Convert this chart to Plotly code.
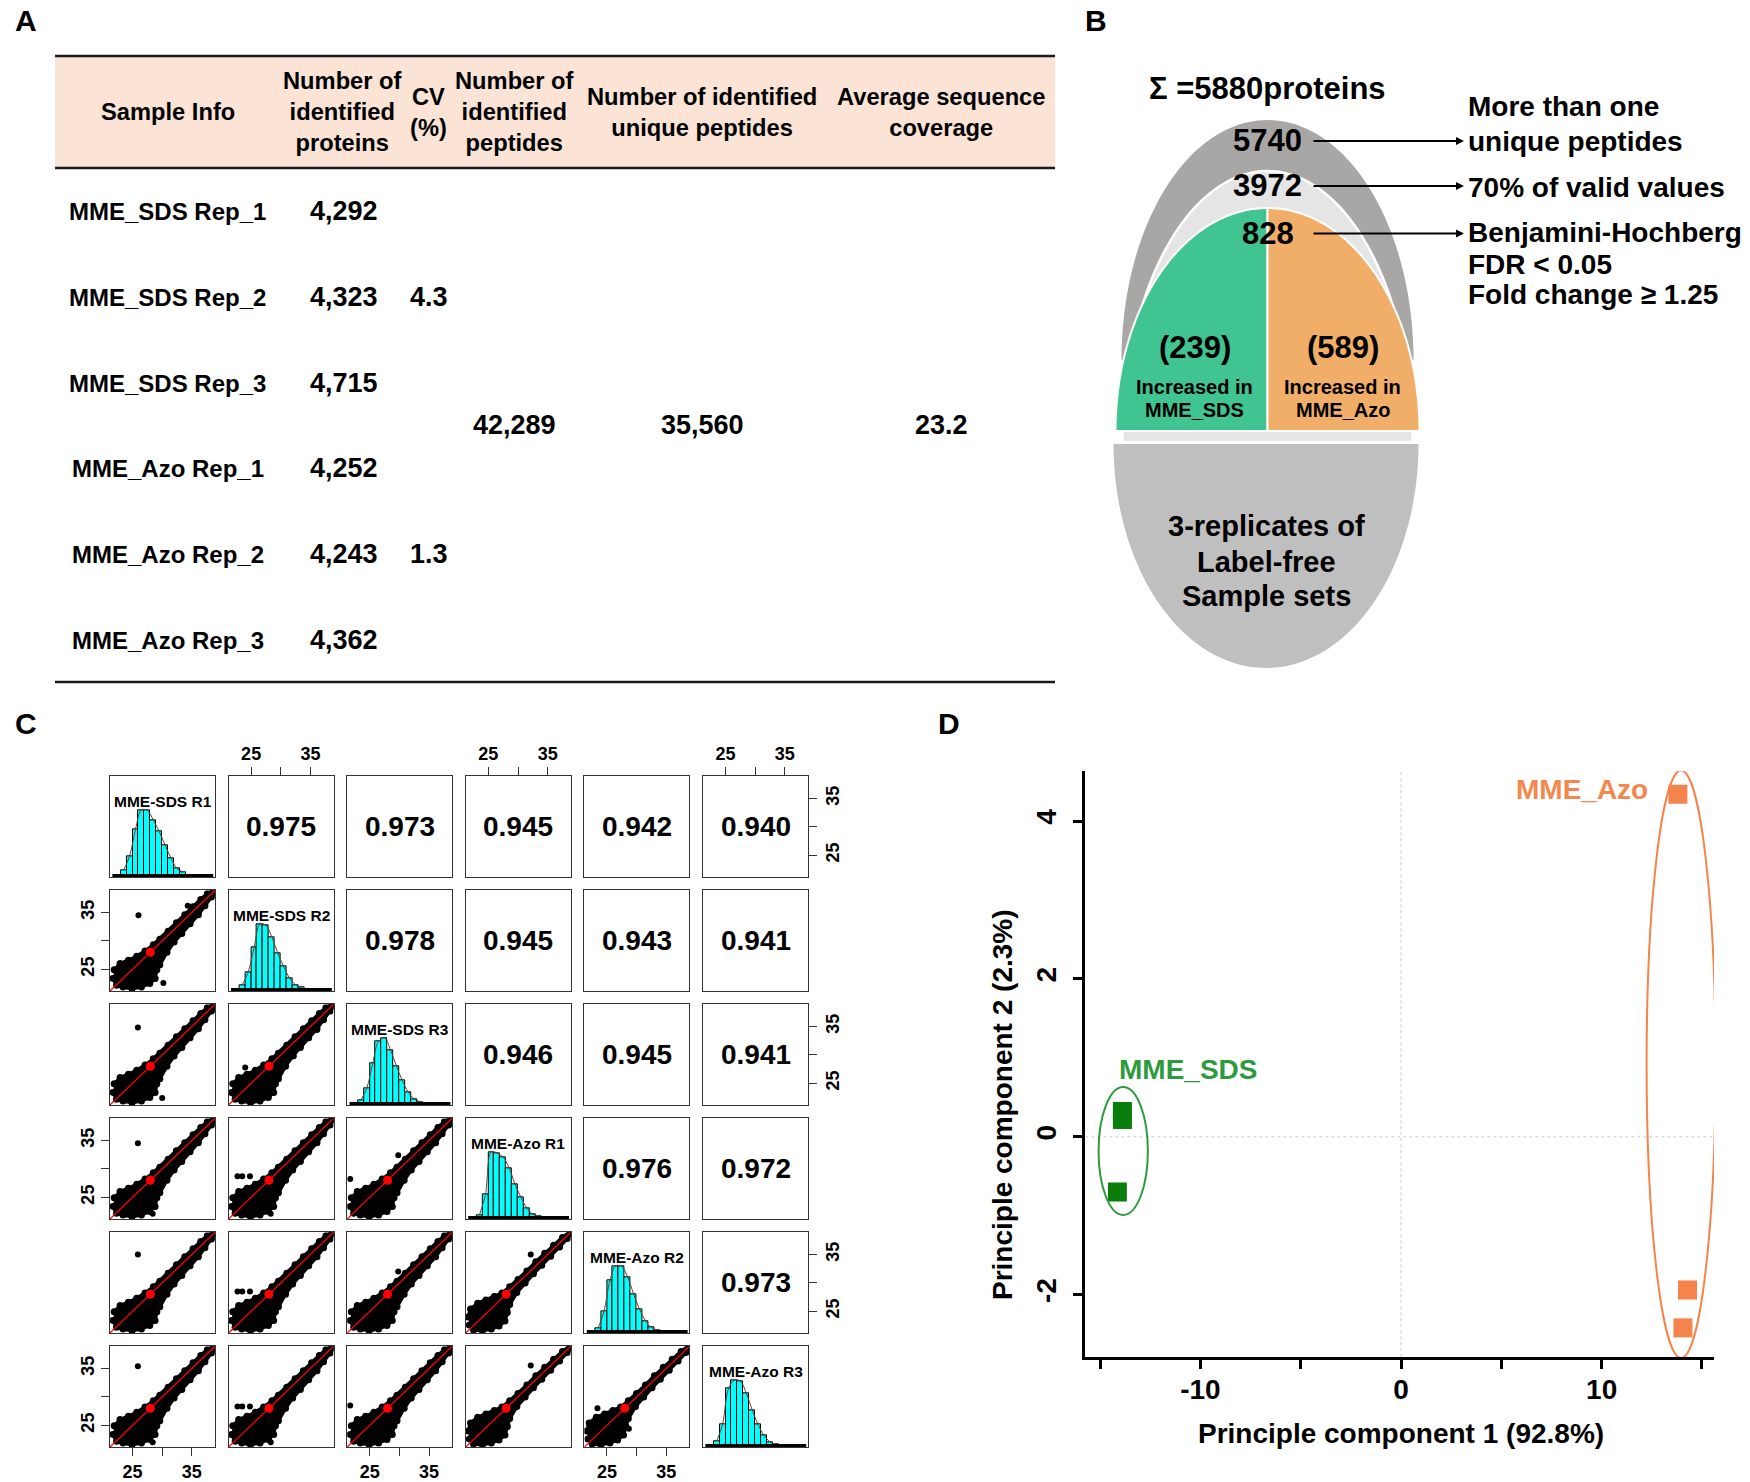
import math
import plotly.graph_objects as go

W, H = 1750, 1482
FONT = "Liberation Sans"


def fx(x):
    return x / W


def fy(y):
    return 1 - y / H


# ======================= DATA =======================
# ---- Panel A (table) ----
header_labels = ["Sample Info", "Number of<br>identified<br>proteins", "CV<br>(%)",
                 "Number of<br>identified<br>peptides", "Number of identified<br>unique peptides",
                 "Average sequence<br>coverage"]
sample_info = ["MME_SDS Rep_1", "MME_SDS Rep_2", "MME_SDS Rep_3",
               "MME_Azo Rep_1", "MME_Azo Rep_2", "MME_Azo Rep_3"]
identified_proteins = [4292, 4323, 4715, 4252, 4243, 4362]
cv_percent = [4.3, 1.3]              # MME_SDS group, MME_Azo group
identified_peptides = 42289
unique_peptides = 35560
avg_sequence_coverage = 23.2

# ---- Panel B (filtering funnel) ----
total_proteins = 5880
filter_counts = [5740, 3972, 828]
filter_text_lines = [["More than one", "unique peptides"], ["70% of valid values"],
                     ["Benjamini-Hochberg", "FDR < 0.05", "Fold change \u2265 1.25"]]
increased_counts = [239, 589]
increased_groups = ["MME_SDS", "MME_Azo"]
sample_set_text = ["3-replicates of", "Label-free", "Sample sets"]

# ---- Panel C (scatter matrix) ----
replicates = ["MME-SDS R1", "MME-SDS R2", "MME-SDS R3", "MME-Azo R1", "MME-Azo R2", "MME-Azo R3"]
corr_rows = [[0.975, 0.973, 0.945, 0.942, 0.940],
             [0.978, 0.945, 0.943, 0.941],
             [0.946, 0.945, 0.941],
             [0.976, 0.972],
             [0.973]]
axis_tick_values = [25, 30, 35]
axis_tick_labels = ["25", "", "35"]
hist_bin_left = [23, 24, 25, 26, 27, 28, 29, 30, 31, 32, 33]
hist_sds_r1 = [100, 310, 710, 1000, 990, 850, 675, 475, 275, 125, 75]
hist_sds_r2 = [90, 280, 650, 1000, 975, 800, 560, 360, 190, 90, 50]
hist_sds_r3 = [70, 250, 620, 950, 1000, 820, 580, 360, 190, 90, 45]
hist_azo_r1 = [60, 360, 1000, 980, 920, 760, 520, 320, 160, 70, 35]
hist_azo_r2 = [70, 320, 780, 1000, 990, 830, 580, 350, 180, 80, 40]
hist_azo_r3 = [80, 340, 870, 1000, 980, 800, 550, 330, 170, 75, 35]
rug_extent = [21.6, 38.6]
# dense point cloud outlines (log2 intensity)
cloud_wide_x = [21.7, 22.3, 23.4, 24.9, 26.5, 27.9, 28.8, 29.1, 29.6, 30.8, 32.0, 33.3, 34.7, 36.1,
                37.2, 38.3, 38.9, 38.6, 37.6, 36.5, 35.2, 33.8, 32.4, 31.0, 29.6, 28.5, 27.1, 25.7,
                24.3, 22.9, 21.9]
cloud_wide_y = [23.4, 22.2, 21.9, 21.6, 21.9, 22.5, 23.4, 24.9, 25.8, 28.0, 29.8, 31.3, 33.0, 34.6,
                36.2, 37.7, 38.6, 38.9, 38.3, 37.3, 36.0, 34.6, 33.2, 31.7, 30.3, 29.3, 28.2, 27.3,
                26.6, 26.0, 24.9]
cloud_tight_x = [21.8, 22.5, 24.0, 25.5, 26.8, 27.8, 28.2, 28.6, 29.8, 31.2, 32.6, 34.0, 35.5, 37.0,
                 38.3, 38.9, 38.7, 37.5, 36.0, 34.5, 33.0, 31.5, 30.0, 28.6, 27.3, 26.0, 24.6, 23.2,
                 22.0, 21.6]
cloud_tight_y = [22.6, 21.7, 21.6, 21.9, 22.4, 23.3, 24.8, 26.2, 28.3, 30.0, 31.6, 33.1, 34.7, 36.3,
                 37.8, 38.6, 38.9, 38.0, 36.6, 35.2, 33.7, 32.1, 30.6, 29.3, 28.2, 27.6, 27.0, 26.4,
                 25.4, 24.0]
outlier_row = [1, 1, 1, 2, 2, 2, 2, 2, 3, 3, 3, 3, 3, 3, 3, 3, 4, 4, 4, 4, 4, 4, 5, 5, 5, 5, 5, 5, 5, 5, 5, 5]
outlier_col = [0, 0, 0, 0, 0, 1, 1, 1, 0, 0, 1, 1, 1, 1, 2, 2, 0, 1, 1, 1, 2, 3, 0, 0, 1, 1, 1, 1, 2, 3, 4, 4]
outlier_x = [26.0, 34.3, 30.2, 25.9, 30.0, 32.2, 36.1, 24.0, 25.9, 28.4, 22.7, 23.5, 24.8, 28.3, 29.8, 21.7,
             25.9, 22.7, 23.5, 24.8, 29.8, 32.15, 25.9, 28.4, 22.7, 23.5, 24.8, 28.3, 21.7, 32.15, 28.7, 23.4]
outlier_y = [34.5, 36.2, 22.6, 34.8, 22.4, 29.8, 34.4, 27.8, 34.5, 22.1, 28.7, 28.7, 28.7, 22.1, 32.4, 28.2,
             35.0, 28.5, 28.5, 28.5, 32.0, 35.0, 35.4, 22.0, 28.3, 28.3, 28.3, 22.0, 28.5, 35.5, 24.4, 28.0]
mean_intensity = 28.0

# ---- Panel D (PCA) ----
pc1_sds = [-13.89, -13.89, -14.14]
pc2_sds = [0.32, 0.22, -0.70]
pc1_azo = [13.80, 14.28, 14.05]
pc2_azo = [4.34, -1.94, -2.42]
ellipse_sds = [-13.85, -0.18, 1.23, 0.81]   # centre x, centre y, radius x, radius y
ellipse_azo = [13.96, 0.92, 1.72, 3.72]
pc_titles = ["Principle component 1 (92.8%)", "Principle component 2 (2.3%)"]
pc1_ticks = [-15, -10, -5, 0, 5, 10, 15]
pc1_tick_text = ["", "-10", "", "0", "", "10", ""]
pc2_ticks = [-2, 0, 2, 4]
pc2_tick_text = ["-2", "0", "2", "4"]

# ======================= FIGURE =======================
fig = go.Figure()
shapes = []
ann = []


def text(x, y, t, size, color="black", bold=True, xanchor="center", yanchor="middle", angle=0):
    ann.append(dict(x=fx(x), y=fy(y), xref="paper", yref="paper", text=("<b>%s</b>" % t) if bold else t,
                    showarrow=False, xanchor=xanchor, yanchor=yanchor, textangle=angle,
                    font=dict(family=FONT, size=size, color=color)))


# panel letters
for lab, (lx, ly) in zip("ABCD", [(26, 20), (1096, 20), (26, 724), (949, 723)]):
    text(lx, ly, lab, 30)

# ---------------- Panel A ----------------
shapes.append(dict(type="rect", xref="paper", yref="paper", x0=fx(55), x1=fx(1055), y0=fy(168), y1=fy(56),
                   fillcolor="#FBE4D5", line=dict(width=0), layer="below"))
for ly in [56, 168, 682]:
    shapes.append(dict(type="line", xref="paper", yref="paper", x0=fx(55), x1=fx(1055), y0=fy(ly), y1=fy(ly),
                       line=dict(color="#1a1a1a", width=2.5)))
col_x = [167.5, 342.5, 428.5, 514.5, 702, 941]
for cx, hl in zip(col_x, header_labels):
    text(cx, 112, hl, 23.7)
row_y = [211, 297, 383, 468, 554, 640]
for ry, s, p in zip(row_y, sample_info, identified_proteins):
    text(167.5, ry, s, 24)
    text(343.5, ry, "{:,}".format(p), 27)
text(428.5, row_y[1], str(cv_percent[0]), 27)
text(428.5, row_y[4], str(cv_percent[1]), 27)
text(514.5, 425.5, "{:,}".format(identified_peptides), 27)
text(702, 425.5, "{:,}".format(unique_peptides), 27)
text(941, 425.5, str(avg_sequence_coverage), 27)

# ---------------- Panel B ----------------


def ell_path(cx, base, rx, ry, part, n=80):
    pts = []
    if part == "top":
        angs = [math.pi * k / n for k in range(n + 1)]
        pts = [(cx + rx * math.cos(a), base - ry * math.sin(a)) for a in angs]
    elif part == "bottom":
        angs = [math.pi * k / n for k in range(n + 1)]
        pts = [(cx + rx * math.cos(a), base + ry * math.sin(a)) for a in angs]
    elif part == "tl":
        angs = [math.pi / 2 + (math.pi / 2) * k / n for k in range(n + 1)]
        pts = [(cx, base)] + [(cx + rx * math.cos(a), base - ry * math.sin(a)) for a in angs]
    elif part == "tr":
        angs = [(math.pi / 2) * k / n for k in range(n + 1)]
        pts = [(cx, base)] + [(cx + rx * math.cos(a), base - ry * math.sin(a)) for a in angs]
    return "M " + " L ".join("%.5f,%.5f" % (fx(a), fy(b)) for a, b in pts) + " Z"


CXB = 1267.5
shapes.append(dict(type="path", xref="paper", yref="paper", path=ell_path(CXB, 360, 146, 240, "top"),
                   fillcolor="#A9A6A6", line=dict(width=0)))
shapes.append(dict(type="path", xref="paper", yref="paper", path=ell_path(CXB, 442, 145, 271, "top"),
                   fillcolor="#E5E5E5", line=dict(color="white", width=2.5)))
shapes.append(dict(type="path", xref="paper", yref="paper", path=ell_path(CXB, 431, 152, 223, "tl"),
                   fillcolor="#3FC492", line=dict(color="white", width=2)))
shapes.append(dict(type="path", xref="paper", yref="paper", path=ell_path(CXB, 431, 152, 223, "tr"),
                   fillcolor="#F1AE68", line=dict(color="white", width=2)))
shapes.append(dict(type="path", xref="paper", yref="paper", path=ell_path(1266, 444, 152.5, 224, "bottom"),
                   fillcolor="#BFBFBF", line=dict(width=0)))

text(CXB, 88, "\u03a3 =%dproteins" % total_proteins, 31)
count_y = [141, 186, 233.5]
for cy, c in zip(count_y, filter_counts):
    text(CXB, cy, str(c), 31)
    ann.append(dict(x=fx(1464), y=fy(cy), xref="paper", yref="paper", text="", showarrow=True,
                    ax=-(1464 - 1312), ay=0, arrowhead=2, arrowsize=0.8, arrowwidth=2, arrowcolor="black",
                    standoff=0, startstandoff=0))
line_y = [[107, 141.5], [187], [233, 264, 295]]
for lines, ys in zip(filter_text_lines, line_y):
    for t, yy in zip(lines, ys):
        text(1466, yy, t, 28, xanchor="left")
for gx, c, g in zip([1194.5, 1342.5], increased_counts, increased_groups):
    text(gx, 347, "(%d)" % c, 31)
    text(gx, 386.5, "Increased in", 20)
    text(gx, 409.5, g, 20)
for t, yy in zip(sample_set_text, [526, 562, 596]):
    text(1266, yy, t, 29)

# ---------------- Panel C ----------------
col_left0, col_step, cell_w = 110.0, 118.6, 105.0
row_top0, row_step, cell_h = 776.3, 114.0, 100.6
AX_RANGE = [21.2, 38.9]
BOX = "#333333"
TICKFONT = dict(family=FONT, size=18, color="black", weight="bold")
hists = [hist_sds_r1, hist_sds_r2, hist_sds_r3, hist_azo_r1, hist_azo_r2, hist_azo_r3]
centers = [b + 0.5 for b in hist_bin_left]
layout_axes = {}


def sfx(n):
    return "" if n == 1 else str(n)


corr_iter = {}
for i, row in enumerate(corr_rows):
    for k, v in enumerate(row):
        corr_iter[(i, i + 1 + k)] = v

for i in range(6):
    for j in range(6):
        n = i * 6 + j + 1
        s = sfx(n)
        left = col_left0 + j * col_step
        top = row_top0 + i * row_step
        xa = dict(domain=[fx(left), fx(left + cell_w)], range=AX_RANGE, anchor="y" + s,
                  showline=True, mirror=True, linecolor=BOX, linewidth=1.3, showgrid=False,
                  zeroline=False, ticks="", showticklabels=False, fixedrange=True)
        ya = dict(domain=[fy(top + cell_h), fy(top)], range=AX_RANGE, anchor="x" + s,
                  showline=True, mirror=True, linecolor=BOX, linewidth=1.3, showgrid=False,
                  zeroline=False, ticks="", showticklabels=False, fixedrange=True)
        tick_common = dict(ticks="outside", ticklen=8, tickwidth=1.3, tickcolor=BOX,
                           tickvals=axis_tick_values, ticktext=axis_tick_labels,
                           showticklabels=True, tickfont=TICKFONT)
        if i == 0 and j % 2 == 1:
            xa.update(side="top", **tick_common)
        if i == 5 and j % 2 == 0:
            xa.update(side="bottom", **tick_common)
        if j == 0 and i % 2 == 1:
            ya.update(side="left", tickangle=-90, **tick_common)
        if j == 5 and i % 2 == 0:
            ya.update(side="right", tickangle=-90, **tick_common)

        if i == j:
            counts = hists[i]
            ya["range"] = [0, 1.5 * max(counts)]
            fig.add_trace(go.Bar(x=centers, y=counts, width=1.0, xaxis="x" + s, yaxis="y" + s,
                                 marker=dict(color="#00FFFF", line=dict(color="black", width=1)),
                                 hoverinfo="skip"))
            fig.add_trace(go.Scatter(x=centers, y=counts, mode="lines", xaxis="x" + s, yaxis="y" + s,
                                     line=dict(color="#7a3b2e", width=1, shape="spline"), hoverinfo="skip"))
            fig.add_trace(go.Scatter(x=rug_extent, y=[0.012 * max(counts)] * 2, mode="lines",
                                     xaxis="x" + s, yaxis="y" + s, line=dict(color="black", width=4),
                                     hoverinfo="skip"))
            ann.append(dict(xref="x%s domain" % s, yref="y%s domain" % s, x=0.5, y=1 - 15 / cell_h,
                            text="<b>%s</b>" % replicates[i], showarrow=False,
                            font=dict(family=FONT, size=15.5, color="black")))
        elif j > i:
            # invisible anchor so that the empty panel (box + ticks) is drawn
            fig.add_trace(go.Scatter(x=[mean_intensity], y=[mean_intensity], mode="markers",
                                     marker=dict(size=1, opacity=0), xaxis="x" + s, yaxis="y" + s,
                                     hoverinfo="skip"))
            ann.append(dict(xref="x%s domain" % s, yref="y%s domain" % s, x=0.5, y=0.5,
                            text="<b>%.3f</b>" % corr_iter[(i, j)], showarrow=False,
                            font=dict(family=FONT, size=28, color="black")))
        else:
            tight = (i >= 3 and j >= 3)
            cxs = cloud_tight_x if tight else cloud_wide_x
            cys = cloud_tight_y if tight else cloud_wide_y
            fig.add_trace(go.Scatter(x=cxs, y=cys, mode="lines+markers", fill="toself", fillcolor="black",
                                     line=dict(color="black", width=3.5), marker=dict(size=7, color="black"),
                                     xaxis="x" + s, yaxis="y" + s, hoverinfo="skip"))
            ox = [x for r, c, x in zip(outlier_row, outlier_col, outlier_x) if r == i and c == j]
            oy = [y for r, c, y in zip(outlier_row, outlier_col, outlier_y) if r == i and c == j]
            fig.add_trace(go.Scatter(x=ox, y=oy, mode="markers", marker=dict(size=6, color="black"),
                                     xaxis="x" + s, yaxis="y" + s, hoverinfo="skip", cliponaxis=True))
            fig.add_trace(go.Scatter(x=AX_RANGE, y=AX_RANGE, mode="lines", line=dict(color="red", width=1.3),
                                     xaxis="x" + s, yaxis="y" + s, hoverinfo="skip"))
            fig.add_trace(go.Scatter(x=[mean_intensity], y=[mean_intensity], mode="markers",
                                     marker=dict(size=9, color="red"), xaxis="x" + s, yaxis="y" + s,
                                     hoverinfo="skip"))
        layout_axes["xaxis" + s] = xa
        layout_axes["yaxis" + s] = ya

# ---------------- Panel D ----------------
nD = 37
sD = str(nD)
DFONT = dict(family=FONT, size=28, color="black", weight="bold")
layout_axes["xaxis" + sD] = dict(domain=[fx(1085.3), fx(1714)], range=[-15.74, 15.6], anchor="y" + sD,
                                 showline=True, linecolor="black", linewidth=3, showgrid=False, zeroline=False,
                                 ticks="outside", ticklen=9, tickwidth=3, tickcolor="black",
                                 tickvals=pc1_ticks, ticktext=pc1_tick_text,
                                 tickfont=DFONT, ticklabelstandoff=-4, fixedrange=True)
layout_axes["yaxis" + sD] = dict(domain=[fy(1357.1), fy(771.3)], range=[-2.79, 4.63], anchor="x" + sD,
                                 showline=True, linecolor="black", linewidth=3, showgrid=False, zeroline=False,
                                 ticks="outside", ticklen=9, tickwidth=3, tickcolor="black",
                                 tickvals=pc2_ticks, ticktext=pc2_tick_text, tickangle=-90,
                                 tickfont=DFONT, ticklabelstandoff=6, fixedrange=True)
shapes.append(dict(type="line", xref="x" + sD, yref="y" + sD, x0=0, x1=0, y0=-2.79, y1=4.63,
                   line=dict(color="#C8C8C8", width=1, dash="dot"), layer="below"))
shapes.append(dict(type="line", xref="x" + sD, yref="y" + sD, x0=-15.74, x1=15.6, y0=0, y1=0,
                   line=dict(color="#C8C8C8", width=1, dash="dot"), layer="below"))
for (ecx, ecy, erx, ery), col in [(ellipse_sds, "#2E9A3E"), (ellipse_azo, "#F5844C")]:
    shapes.append(dict(type="circle", xref="x" + sD, yref="y" + sD, x0=ecx - erx, x1=ecx + erx,
                       y0=ecy - ery, y1=ecy + ery, line=dict(color=col, width=2)))
fig.add_trace(go.Scatter(x=pc1_sds, y=pc2_sds, mode="markers", xaxis="x" + sD, yaxis="y" + sD,
                         marker=dict(symbol="square", size=19, color="#0B7D0B"), hoverinfo="skip"))
fig.add_trace(go.Scatter(x=pc1_azo, y=pc2_azo, mode="markers", xaxis="x" + sD, yaxis="y" + sD,
                         marker=dict(symbol="square", size=19, color="#F5844C"), hoverinfo="skip"))
text(1188, 1069, "MME_SDS", 28, color="#2E9A3E")
text(1582, 789, "MME_Azo", 28, color="#F5874D")
text(1400.5, 1433, pc_titles[0], 28)
text(1002, 1105, pc_titles[1], 28, angle=-90)

fig.update_layout(width=W, height=H, margin=dict(l=0, r=0, t=0, b=0), autosize=False,
                  paper_bgcolor="white", plot_bgcolor="white", showlegend=False,
                  font=dict(family=FONT), shapes=shapes, annotations=ann, bargap=0,
                  **layout_axes)
fig.write_html("out.html", config={"displayModeBar": False},
               post_script="document.body.style.margin='0px';document.body.style.padding='0px';"
                           "document.documentElement.style.overflow='hidden';")
